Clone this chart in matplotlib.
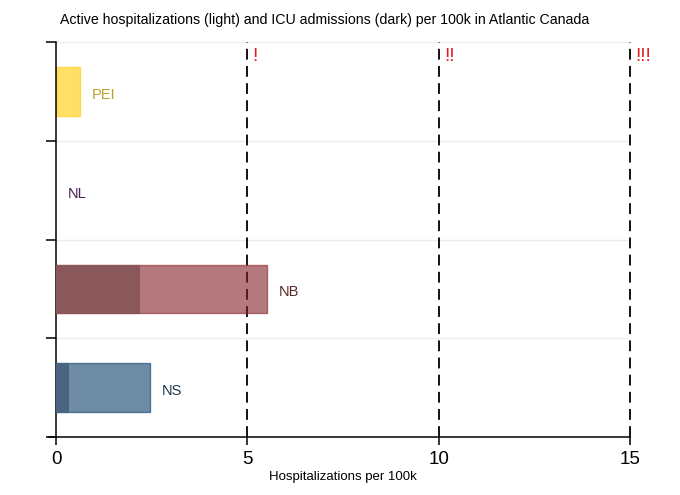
import matplotlib
matplotlib.use("Agg")
import matplotlib.pyplot as plt

plt.rcParams['font.family'] = ['Liberation Sans', 'DejaVu Sans']

provinces = ["PEI", "NL", "NB", "NS"]
hosp = [0.63, 0.0, 5.52, 2.46]
icu = [0.0, 0.0, 2.17, 0.31]
light_colors = ["#FFCB00", "#6A2A75", "#842128", "#0D3F6B"]
dark_colors = ["#E8B800", "#4A1A55", "#8A575B", "#4A6580"]
label_colors = ["#B8A02A", "#4A1A55", "#5A2828", "#1F3550"]
thresholds = [5, 10, 15]
threshold_labels = ["!", "!!", "!!!"]
xticks = [0, 5, 10, 15]

fig = plt.figure(figsize=(6.8, 4.95), dpi=100)
ax = fig.add_axes([56/680, 58/495, (630-56)/680, (437-42)/495])

n = len(provinces)
ypos = [n - 1 - i for i in range(n)]

# grid lines
for b in [i + 0.5 for i in range(n)]:
    ax.axhline(b, color="#E8EEF0", lw=1.0, zorder=0)

# threshold lines
for t, lab in zip(thresholds, threshold_labels):
    ax.axvline(t, color="black", lw=1.3, linestyle=(0, (6, 3.5)), zorder=1,
               clip_on=False)
    ax.text(t + 0.14, n - 0.5 - 0.15, lab, color="#E41A1C", fontsize=13.5,
            ha="left", va="center", clip_on=False)

for y, h, c, lc, dc, tc, name in zip(ypos, hosp, icu, light_colors,
                                     dark_colors, label_colors, provinces):
    if h > 0:
        ax.barh(y, h, height=0.49, color=lc, alpha=0.6, edgecolor=lc,
                linewidth=1.0, zorder=2)
    if c > 0:
        ax.barh(y, c, height=0.49, color=dc, edgecolor=dc, alpha=1.0,
                linewidth=0.8, zorder=3)
    ax.text(h + 0.3, y - 0.02, name, color=tc,
            fontsize=10.5, ha="left", va="center_baseline", zorder=4)

ax.set_xlim(0, 15)
ax.set_ylim(-0.5, n - 0.5)
ax.set_xticks(xticks)
ax.set_xticklabels([str(v) for v in xticks], fontsize=13.5)
ax.set_yticks([i - 0.5 for i in range(n + 1)])
ax.set_yticklabels([])
ax.tick_params(axis="y", direction="out", length=7, width=1.1)
ax.tick_params(axis="x", direction="out", length=6, width=1.1, pad=4)
for s in ["top", "right"]:
    ax.spines[s].set_visible(False)
ax.spines["left"].set_linewidth(1.1)
ax.spines["bottom"].set_linewidth(1.1)
ax.spines["bottom"].set_bounds(-0.18, 15)
ax.set_xlabel("Hospitalizations per 100k", fontsize=9.5, labelpad=2)

fig.text(60/680, 1 - 20/495,
         "Active hospitalizations (light) and ICU admissions (dark) per 100k in Atlantic Canada",
         fontsize=10.2, ha="left", va="center")

fig.savefig("out.png", dpi=100)
